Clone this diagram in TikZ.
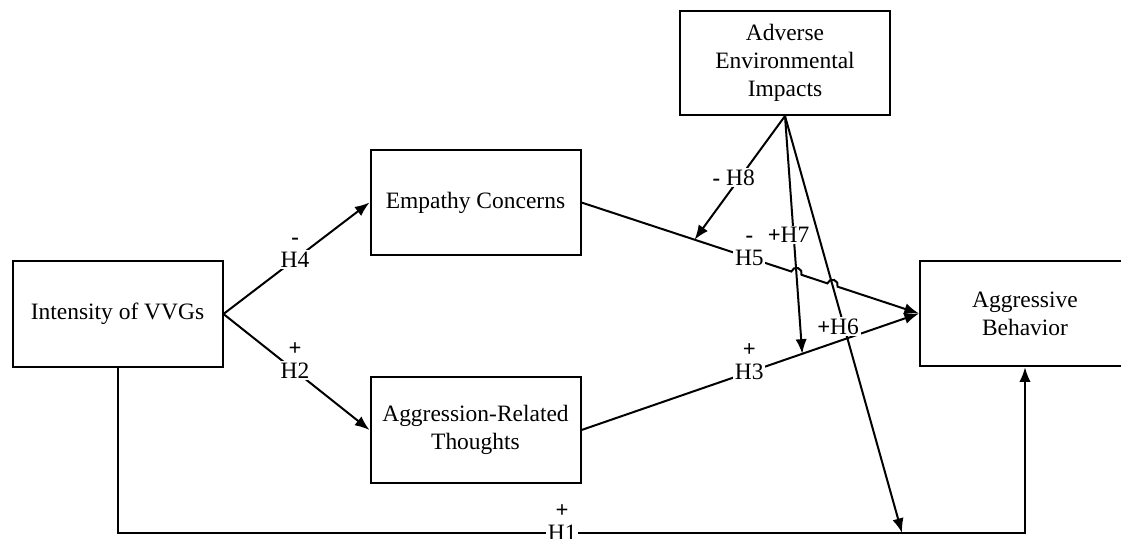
\documentclass[tikz,border=0pt]{standalone}
\usepackage{fontspec}
\setmainfont{Liberation Serif}
\usetikzlibrary{arrows.meta,calc}
\newcommand\sgnfont{\fontsize{17}{17}\selectfont\bfseries}
\begin{document}
\begin{tikzpicture}[x=0.75pt,y=-0.75pt,
  box/.style={draw, line width=1.5pt, minimum width=157.5pt, minimum height=79pt,
              align=center, inner sep=0pt, font=\fontsize{17.6}{21}\selectfont},
  conn/.style={line width=1.5pt, -{Latex[length=11pt,width=8.5pt]}},
  hyp/.style={fill=white, inner sep=1.2pt, font=\fontsize{17.6}{20}\selectfont},
  sgn/.style={font=\sgnfont, inner sep=0pt, label distance=3pt}
]
\useasboundingbox (0,0) rectangle (1121,539);
\clip (0,0) rectangle (1121,539);

% boxes
\node[box, minimum height=80pt] (iv) at (117.5,314) {Intensity of VVGs};
\node[box] (ec) at (475.5,202.5) {Empathy Concerns};
\node[box] (ar) at (475.5,430) {Aggression-Related\\Thoughts};
\node[box, minimum height=78pt] (ae) at (785,63) {Adverse\\Environmental\\Impacts};
\node[box] (ab) at (1025,313.5) {Aggressive\\Behavior};

% helper coordinates
\coordinate (bl) at (iv.south |- 0,533);
\coordinate (br) at (ab.south |- 0,533);
\coordinate (h8e) at ($(ec.east)!0.335!(ab.west)$);
\coordinate (h7e) at ($(ar.east)!0.654!(ab.west)$);
\coordinate (h6e) at ($(bl)!0.8645!(br)$);
\coordinate (j1) at (intersection of ec.east--ab.west and ae.south--h7e);
\coordinate (j2) at (intersection of ec.east--ab.west and ae.south--h6e);

% H4, H2
\draw[conn] (iv.east) -- node[hyp, pos=0.49, label={[sgn]above:-}] {H4} (ec.west);
\draw[conn] (iv.east) -- node[hyp, pos=0.49, label={[sgn]above:+}] {H2} (ar.west);

% H3
\draw[conn] (ar.east) -- node[hyp, pos=0.497, label={[sgn]above:+}] {H3} (ab.west);

% H5 with jumps
\draw[conn] (ec.east) -- node[hyp, pos=0.8, label={[sgn]above:-}] {H5}
  ($(j1)!4pt!(ec.east)$) arc[start angle=162, end angle=-18, radius=4pt]
  -- ($(j2)!4pt!(ec.east)$) arc[start angle=162, end angle=-18, radius=4pt]
  -- (ab.west);

% H1
\draw[conn] (iv.south) -- (bl) -- node[hyp, pos=0.49, label={[sgn]above:+}] {H1} (br) -- (ab.south);

% moderation arrows
\draw[conn] (ae.south) -- node[hyp, pos=0.5, xshift=-4.5pt] {{\sgnfont -} H8} (h8e);
\draw[conn] (ae.south) -- node[hyp, pos=0.5, xshift=-3.75pt] {{\sgnfont +}H7} (h7e);
\draw[conn] (ae.south) -- node[hyp, pos=0.505, xshift=-4.5pt] {{\sgnfont +}H6} (h6e);
\end{tikzpicture}
\end{document}
